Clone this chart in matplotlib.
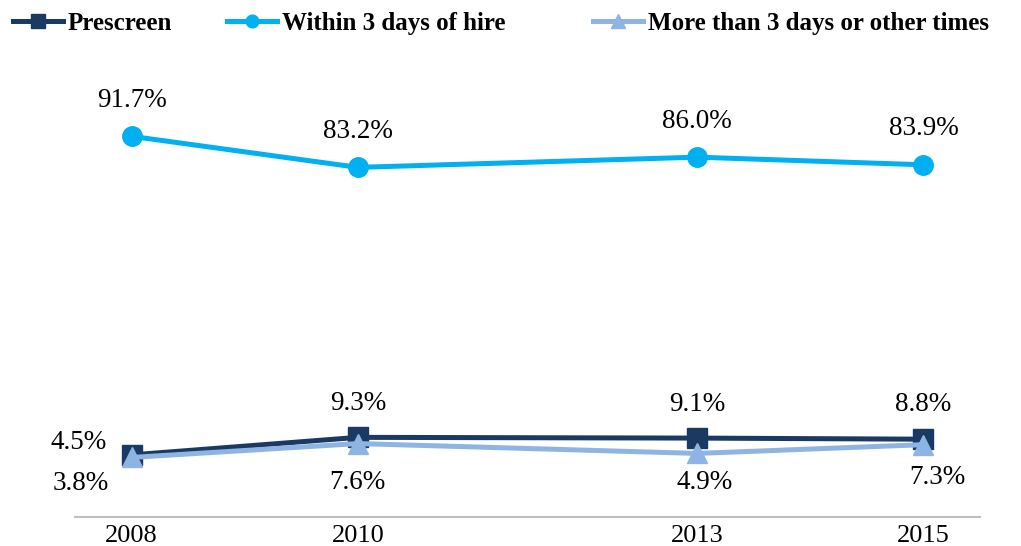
import numpy as np
import matplotlib
matplotlib.use("Agg")
import matplotlib.pyplot as plt

# Data
years = [2008, 2010, 2013, 2015]
prescreen = [4.5, 9.3, 9.1, 8.8]
within_3 = [91.7, 83.2, 86.0, 83.9]
more_than_3 = [3.8, 7.6, 4.9, 7.3]

series_names = ["Prescreen", "Within 3 days of hire", "More than 3 days or other times"]
colors = ["#1B3A63", "#00B0F0", "#8EB4E3"]

# label offsets in pixels (x, y) and alignment
pre_off = [(-25, 12, 'right'), (0, 34, 'center'), (0, 34, 'center'), (0, 35, 'center')]
more_off = [(-23, -26, 'right'), (0, -39, 'center'), (7, -29, 'center'), (14, -33, 'center')]

plt.rcParams['font.family'] = ['Liberation Serif', 'DejaVu Serif']

fig = plt.figure(figsize=(10.21, 5.46), dpi=100)
ax = fig.add_axes([75 / 1021, 29 / 546, 905 / 1021, 411 / 546])

l1, = ax.plot(years, prescreen, color=colors[0], lw=3.6, marker='s', ms=15,
              label=series_names[0], zorder=3)
l2, = ax.plot(years, within_3, color=colors[1], lw=3.6, marker='o', ms=14,
              label=series_names[1], zorder=3)
l3, = ax.plot(years, more_than_3, color=colors[2], lw=3.6, marker='^', ms=15,
              label=series_names[2], zorder=4)

fs = 19.5
# Data labels
for x, y in zip(years, within_3):
    ax.annotate(f"{y:.1f}%", (x, y), xytext=(0, 36), textcoords='offset pixels',
                ha='center', va='center', fontsize=fs)
for (x, y), (dx, dy, ha) in zip(zip(years, prescreen), pre_off):
    ax.annotate(f"{y:.1f}%", (x, y), xytext=(dx, dy), textcoords='offset pixels',
                ha=ha, va='center', fontsize=fs)
for (x, y), (dx, dy, ha) in zip(zip(years, more_than_3), more_off):
    ax.annotate(f"{y:.1f}%", (x, y), xytext=(dx, dy), textcoords='offset pixels',
                ha=ha, va='center', fontsize=fs)

ax.set_xlim(2007.5, 2015.5)
ax.set_ylim(-12.5, 100)
ax.set_xticks(years)
ax.set_xticklabels([str(y) for y in years], fontsize=19)
ax.set_yticks([])
ax.tick_params(axis='x', length=0, pad=6)
for s in ['top', 'right', 'left']:
    ax.spines[s].set_visible(False)
ax.spines['bottom'].set_color('#BFBFBF')
ax.spines['bottom'].set_linewidth(1.5)

# one legend per entry so the spacing follows the reference
for h, xpos in zip([l1, l2, l3], [13, 227, 593]):
    leg = fig.legend(handles=[h], loc='upper left', bbox_to_anchor=(xpos / 1021, 1 - 12 / 546),
                     frameon=False, prop={'weight': 'bold', 'size': 18}, handlelength=2.0,
                     handletextpad=0.2, markerscale=0.65, borderpad=0, borderaxespad=0)

plt.savefig("out.png", dpi=100)
